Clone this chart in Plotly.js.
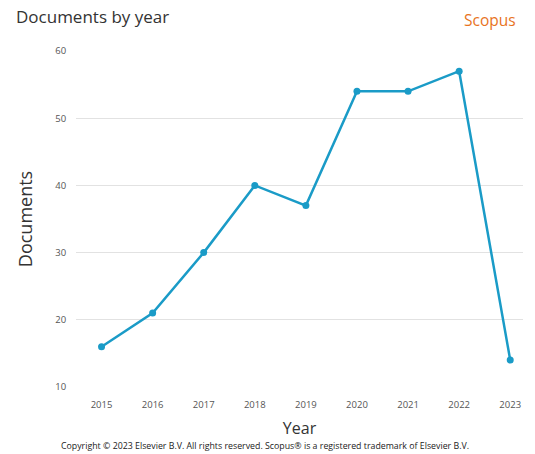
<!DOCTYPE html>
<html><head><meta charset="utf-8">
<script src="https://cdn.plot.ly/plotly-3.0.1.min.js"></script>
<style>body{margin:0;background:#fff}#c{width:535px;height:454px}</style>
</head><body><div id="c"></div>
<script>
const years = [2015, 2016, 2017, 2018, 2019, 2020, 2021, 2022, 2023];
const documents = [16, 21, 30, 40, 37, 54, 54, 57, 14];
const yTicks = [10, 20, 30, 40, 50, 60];

const trace = {
  x: years, y: documents, type: 'scatter', mode: 'lines+markers',
  line: {color: '#1a9bc7', width: 2.5},
  marker: {color: '#1a9bc7', size: 7},
  hoverinfo: 'skip'
};
const layout = {
  width: 535, height: 454,
  margin: {l: 76, r: 12, t: 51, b: 67},
  paper_bgcolor: '#fff', plot_bgcolor: '#fff',
  font: {family: 'Open Sans, DejaVu Sans, sans-serif', color: '#555'},
  showlegend: false,
  xaxis: {
    range: [2014.5, 2023.25], tickvals: years, ticktext: years.map(String),
    showgrid: false, zeroline: false, showline: false,
    ticks: 'outside', ticklen: 9, tickcolor: 'rgba(0,0,0,0)',
    tickfont: {size: 9.5, color: '#555'},
    title: {text: 'Year', font: {size: 16, color: '#333'}, standoff: 12}
  },
  yaxis: {
    range: [10, 60], tickvals: yTicks, showgrid: true, gridcolor: '#e2e2e2',
    zeroline: false, showline: false,
    ticks: 'outside', ticklen: 7, tickcolor: 'rgba(0,0,0,0)',
    tickfont: {size: 9.5, color: '#555'},
    title: {text: 'Documents', font: {size: 18, color: '#333'}, standoff: 17}
  },
  annotations: [
    {text: 'Documents by year', xref: 'paper', yref: 'paper', x: (14-76)/447, y: 1 + 34/336,
     xanchor: 'left', yanchor: 'middle', showarrow: false, font: {size: 17, color: '#333'}},
    {text: 'Scopus', xref: 'paper', yref: 'paper', x: (518-76)/447, y: 1 + 31/336,
     xanchor: 'right', yanchor: 'middle', showarrow: false, font: {size: 15.5, color: '#e8731e'}},
    {text: 'Copyright © 2023 Elsevier B.V. All rights reserved. Scopus® is a registered trademark of Elsevier B.V.',
     xref: 'paper', yref: 'paper', x: (265-76)/447, y: -59/336, xanchor: 'center', yanchor: 'middle',
     showarrow: false, font: {size: 8.8, color: '#222'}}
  ]
};
Plotly.newPlot('c', [trace], layout, {displayModeBar: false, staticPlot: true});
</script></body></html>
